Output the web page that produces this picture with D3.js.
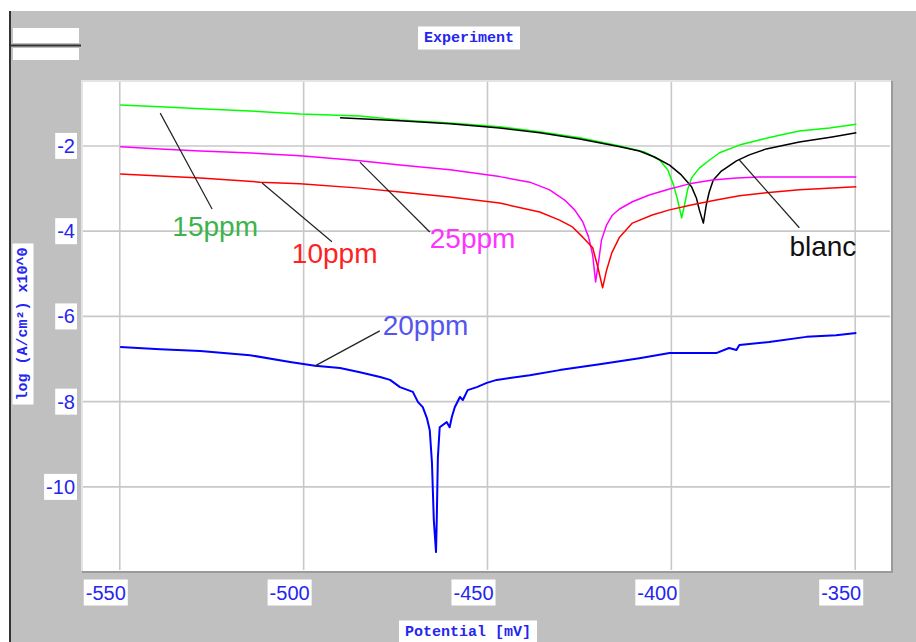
<!DOCTYPE html>
<html>
<head>
<meta charset="utf-8">
<script src="https://cdn.jsdelivr.net/npm/d3@7"></script>
<style>
  body { margin: 0; background: #fff; }
  svg { display: block; }
</style>
</head>
<body>
<svg id="chart" width="916" height="642"></svg>
<script>
// potential (mV) / log current values
var green15 = [
  [-549.9,-1.04],[-539.0,-1.08],[-528.1,-1.13],[-514.6,-1.18],[-501.0,-1.25],[-484.7,-1.30],
  [-473.8,-1.39],[-460.2,-1.46],[-446.7,-1.55],[-435.8,-1.67],[-424.9,-1.81],[-414.0,-2.00],
  [-407.3,-2.14],[-403.2,-2.33],[-401.0,-2.56],[-399.4,-2.92],[-398.3,-3.27],[-397.2,-3.69],
  [-396.4,-3.38],[-395.6,-3.03],[-394.5,-2.75],[-392.4,-2.52],[-389.6,-2.33],[-386.9,-2.16],
  [-381.5,-1.98],[-376.1,-1.86],[-370.6,-1.75],[-365.2,-1.65],[-357.0,-1.58],[-349.7,-1.49]
];
var blanc = [
  [-490.1,-1.34],[-473.8,-1.41],[-460.2,-1.48],[-446.7,-1.58],[-435.8,-1.69],[-424.9,-1.84],
  [-414.0,-2.02],[-408.7,-2.12],[-404.6,-2.26],[-400.5,-2.45],[-397.3,-2.68],[-394.5,-2.96],
  [-393.2,-3.22],[-392.4,-3.50],[-391.3,-3.81],[-390.5,-3.38],[-389.7,-3.08],[-388.6,-2.80],
  [-386.4,-2.59],[-382.3,-2.35],[-378.8,-2.21],[-374.2,-2.07],[-365.2,-1.91],[-356.3,-1.79],
  [-349.7,-1.69]
];
var magenta25 = [
  [-549.9,-2.02],[-539.0,-2.07],[-528.1,-2.12],[-515.9,-2.16],[-501.0,-2.23],[-484.7,-2.35],
  [-473.8,-2.45],[-460.2,-2.56],[-446.7,-2.72],[-438.5,-2.85],[-433.1,-3.03],[-429.0,-3.27],
  [-426.3,-3.50],[-424.1,-3.78],[-422.5,-4.14],[-421.4,-4.56],[-420.6,-5.19],[-419.8,-4.72],
  [-419.0,-4.21],[-417.6,-3.85],[-416.0,-3.62],[-414.1,-3.48],[-410.6,-3.31],[-406.0,-3.15],
  [-400.5,-3.01],[-395.1,-2.89],[-388.8,-2.80],[-382.3,-2.75],[-376.1,-2.73],[-365.2,-2.73],
  [-349.7,-2.73]
];
var red10 = [
  [-549.9,-2.66],[-528.1,-2.75],[-511.8,-2.85],[-501.0,-2.89],[-484.7,-2.99],[-473.8,-3.08],
  [-460.2,-3.20],[-446.7,-3.34],[-435.8,-3.55],[-430.4,-3.74],[-426.9,-3.90],[-424.1,-4.14],
  [-421.4,-4.39],[-420.0,-4.84],[-418.7,-5.33],[-417.6,-4.91],[-416.2,-4.51],[-414.1,-4.14],
  [-410.6,-3.81],[-405.2,-3.62],[-400.5,-3.50],[-394.3,-3.38],[-387.8,-3.27],[-381.5,-3.17],
  [-374.2,-3.10],[-365.2,-3.03],[-349.7,-2.96]
];
var blue20 = [
  [-549.9,-6.72],[-539.0,-6.77],[-528.1,-6.81],[-514.6,-6.91],[-503.7,-7.07],[-496.9,-7.16],
  [-490.1,-7.21],[-484.7,-7.31],[-479.2,-7.42],[-476.5,-7.49],[-473.8,-7.66],[-470.3,-7.77],
  [-468.9,-8.01],[-467.6,-8.13],[-466.5,-8.38],[-465.7,-8.67],[-465.1,-9.44],[-464.6,-10.78],
  [-464.0,-11.53],[-463.8,-10.78],[-463.5,-9.32],[-463.0,-8.60],[-461.1,-8.48],[-460.3,-8.60],
  [-459.7,-8.36],[-458.9,-8.13],[-457.5,-7.89],[-456.7,-7.96],[-455.4,-7.73],[-452.9,-7.66],
  [-450.2,-7.56],[-447.5,-7.49],[-438.5,-7.38],[-430.4,-7.26],[-419.5,-7.12],[-408.7,-6.98],
  [-400.5,-6.86],[-387.8,-6.86],[-384.3,-6.74],[-382.3,-6.79],[-381.5,-6.67],[-373.4,-6.60],
  [-363.3,-6.48],[-355.2,-6.44],[-349.7,-6.39]
];

var seriesNames = ["15ppm", "blanc", "25ppm", "10ppm", "20ppm"];
var seriesColors = ["#00ff00", "#000000", "#ff00ff", "#ff0000", "#0000ff"];
var seriesData = [green15, blanc, magenta25, red10, blue20];

var xTicks = [-550, -500, -450, -400, -350];
var yTicks = [-2, -4, -6, -8, -10];

// labels: text, colour, leader start, leader end, text position (data units)
var labelNames = ["15ppm", "10ppm", "25ppm", "20ppm", "blanc"];
var labelColors = ["#3cb44b", "#ff2222", "#ff33ff", "#5555ee", "#111111"];
var leaderFrom = [[-539.0,-1.23], [-511.3,-2.87], [-484.7,-2.38], [-496.9,-7.16], [-381.5,-2.33]];
var leaderTo = [[-524.9,-3.48], [-492.3,-4.25], [-465.7,-4.02], [-479.3,-6.34], [-365.2,-3.92]];
var labelAt = [[-535.7,-4.11], [-503.2,-4.75], [-465.7,-4.39], [-478.5,-6.44], [-367.9,-4.58]];

var svg = d3.select("#chart");
var mono = "'Liberation Mono','Courier New',monospace";
var sans = "'Liberation Sans',Arial,sans-serif";
var textBlue = "#2525f0";

// window background
svg.append("rect").attr("x", 9).attr("y", 11).attr("width", 907).attr("height", 631).attr("fill", "#c0c0c0");
svg.append("line").attr("x1", 10).attr("x2", 10).attr("y1", 11).attr("y2", 642)
   .attr("stroke", "#333").attr("stroke-width", 2);

// small legend stub in the corner
svg.append("rect").attr("x", 13).attr("y", 28).attr("width", 66).attr("height", 15).attr("fill", "#fff");
svg.append("rect").attr("x", 13).attr("y", 48).attr("width", 66).attr("height", 12).attr("fill", "#fff");
svg.append("line").attr("x1", 10).attr("x2", 81).attr("y1", 45.5).attr("y2", 45.5)
   .attr("stroke", "#333").attr("stroke-width", 2);

var pL = 82, pR = 891, pT = 81, pB = 571;
var x = d3.scaleLinear().domain([-560, -340]).range([83, 892]);
var y = d3.scaleLinear().domain([-11.95, -0.5]).range([570, 82]);

// plot frame
svg.append("rect").attr("x", pL).attr("y", pT).attr("width", pR - pL).attr("height", pB - pT)
   .attr("fill", "#fff");
svg.append("path").attr("d", "M" + pL + "," + pB + "V" + pT + "H" + pR)
   .attr("fill", "none").attr("stroke", "#e4e4e4").attr("stroke-width", 2);
svg.append("path").attr("d", "M" + (pR + 1) + "," + pT + "V" + (pB + 1) + "H" + pL)
   .attr("fill", "none").attr("stroke", "#9a9a9a").attr("stroke-width", 2);

svg.append("clipPath").attr("id", "clip").append("rect")
   .attr("x", pL + 1).attr("y", pT + 1).attr("width", pR - pL - 2).attr("height", pB - pT - 2);

var grid = svg.append("g").attr("clip-path", "url(#clip)");
grid.selectAll(".vg").data(xTicks).enter().append("line")
   .attr("x1", function(d) { return x(d); }).attr("x2", function(d) { return x(d); })
   .attr("y1", pT).attr("y2", pB)
   .attr("stroke", "#c8c8c8").attr("stroke-width", 1.6);
grid.selectAll(".hg").data(yTicks).enter().append("line")
   .attr("y1", function(d) { return y(d); }).attr("y2", function(d) { return y(d); })
   .attr("x1", pL).attr("x2", pR)
   .attr("stroke", "#c8c8c8").attr("stroke-width", 1.6);

// labels in white boxes
function boxedText(g, tx, ty, str, anchor, font, size, weight, rotate, padX, padY) {
  var grp = g.append("g").attr("transform", "translate(" + tx + "," + ty + ")" + (rotate ? " rotate(-90)" : ""));
  var bg = grp.append("rect").attr("fill", "#fff");
  var t = grp.append("text").text(str)
     .attr("text-anchor", anchor).attr("dominant-baseline", "central")
     .attr("font-family", font).attr("font-size", size).attr("font-weight", weight || "normal")
     .attr("fill", textBlue);
  var b = t.node().getBBox();
  bg.attr("x", b.x - padX).attr("y", b.y - padY).attr("width", b.width + 2 * padX).attr("height", b.height + 2 * padY);
  return grp;
}

var xAxis = svg.append("g");
xTicks.forEach(function(v) { boxedText(xAxis, x(v) + 6, 592.5, v, "end", sans, 20, "normal", false, 2, 2); });
var yAxis = svg.append("g");
yTicks.forEach(function(v) { boxedText(yAxis, 75, y(v), v, "end", sans, 20, "normal", false, 2, 2); });

boxedText(svg, 469, 38, "Experiment", "middle", mono, 15, "bold", false, 6, 3);
boxedText(svg, 468, 632, "Potential [mV]", "middle", mono, 15, "bold", false, 6, 3);
boxedText(svg, 23, 324, "log (A/cm\u00b2) x10^0", "middle", mono, 15, "bold", true, 4, 2);

// curves
var line = d3.line().x(function(d) { return x(d[0]); }).y(function(d) { return y(d[1]); });
var plot = svg.append("g").attr("clip-path", "url(#clip)");
plot.selectAll(".curve").data(seriesData).enter().append("path")
   .attr("class", "curve")
   .attr("d", line)
   .attr("fill", "none")
   .attr("stroke", function(d, i) { return seriesColors[i]; })
   .attr("stroke-width", function(d, i) { return seriesNames[i] == "20ppm" ? 2 : 1.5; })
   .attr("stroke-linejoin", "round");

// annotation leaders + text
plot.selectAll(".leader").data(labelNames).enter().append("line")
   .attr("x1", function(d, i) { return x(leaderFrom[i][0]); })
   .attr("y1", function(d, i) { return y(leaderFrom[i][1]); })
   .attr("x2", function(d, i) { return x(leaderTo[i][0]); })
   .attr("y2", function(d, i) { return y(leaderTo[i][1]); })
   .attr("stroke", "#222").attr("stroke-width", 1.2);
plot.selectAll(".lbl").data(labelNames).enter().append("text")
   .attr("x", function(d, i) { return x(labelAt[i][0]); })
   .attr("y", function(d, i) { return y(labelAt[i][1]); })
   .attr("font-family", sans).attr("font-size", 28)
   .attr("fill", function(d, i) { return labelColors[i]; })
   .text(function(d) { return d; });
</script>
</body>
</html>
